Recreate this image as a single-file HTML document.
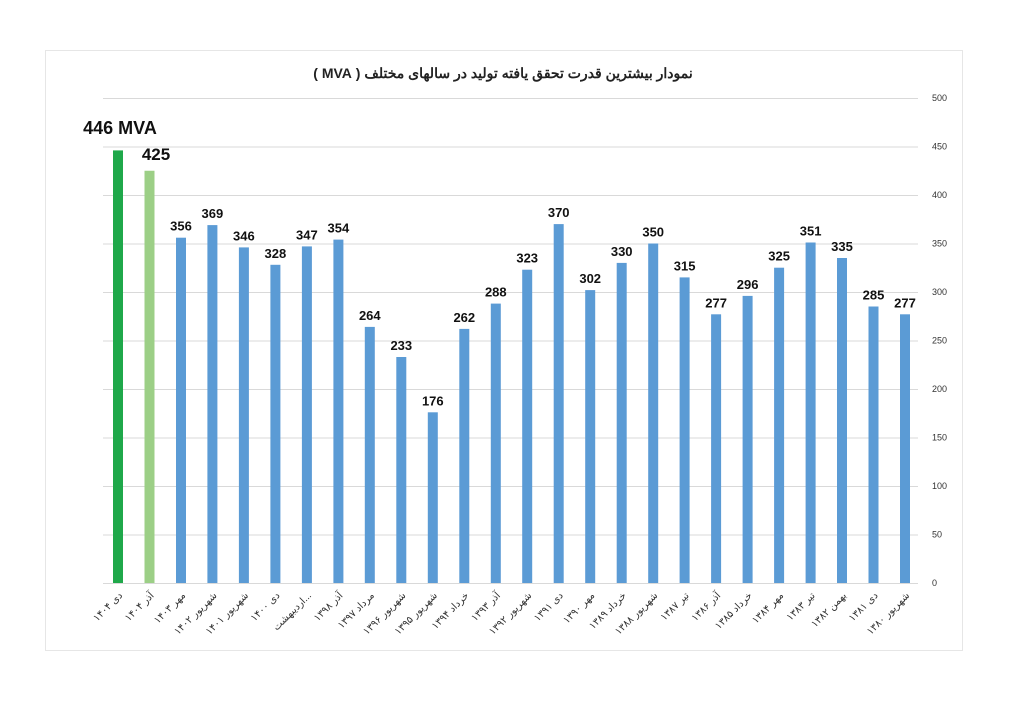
<!DOCTYPE html>
<html><head><meta charset="utf-8"><style>
html,body{margin:0;padding:0;background:#fff;}
svg{display:block;font-family:"Liberation Sans","Noto Sans CJK SC",sans-serif;}
</style></head><body>
<svg width="1024" height="712" viewBox="0 0 1024 712" xmlns="http://www.w3.org/2000/svg">
<rect x="0" y="0" width="1024" height="712" fill="#fff"/>
<rect x="45.5" y="50.5" width="917" height="600" fill="#fff" stroke="#e6e6e6"/>
<text x="503" y="78" text-anchor="middle" font-size="14" font-weight="bold" fill="#222" direction="rtl">نمودار بیشترین قدرت تحقق یافته تولید در سالهای مختلف ( MVA )</text>
<g stroke="#d9d9d9" stroke-width="1">
<line x1="103" x2="918" y1="583.5" y2="583.5"/>
<line x1="103" x2="918" y1="535" y2="535"/>
<line x1="103" x2="918" y1="486.5" y2="486.5"/>
<line x1="103" x2="918" y1="438" y2="438"/>
<line x1="103" x2="918" y1="389.5" y2="389.5"/>
<line x1="103" x2="918" y1="341" y2="341"/>
<line x1="103" x2="918" y1="292.5" y2="292.5"/>
<line x1="103" x2="918" y1="244" y2="244"/>
<line x1="103" x2="918" y1="195.5" y2="195.5"/>
<line x1="103" x2="918" y1="147" y2="147"/>
<line x1="103" x2="918" y1="98.5" y2="98.5"/>
</g>
<g font-size="9" fill="#333">
<text x="932" y="586">0</text>
<text x="932" y="537.5">50</text>
<text x="932" y="489">100</text>
<text x="932" y="440.5">150</text>
<text x="932" y="392">200</text>
<text x="932" y="343.5">250</text>
<text x="932" y="295">300</text>
<text x="932" y="246.5">350</text>
<text x="932" y="198">400</text>
<text x="932" y="149.5">450</text>
<text x="932" y="101">500</text>
</g>
<g fill="#5b9bd5">
<rect x="113" y="150.4" width="10" height="432.6" fill="#1fa84a"/>
<rect x="144.5" y="170.75" width="10" height="412.25" fill="#9ccf86"/>
<rect x="176" y="237.7" width="10" height="345.3"/>
<rect x="207.4" y="225.1" width="10" height="357.9"/>
<rect x="238.9" y="247.4" width="10" height="335.6"/>
<rect x="270.4" y="264.8" width="10" height="318.2"/>
<rect x="301.9" y="246.4" width="10" height="336.6"/>
<rect x="333.4" y="239.6" width="10" height="343.4"/>
<rect x="364.8" y="326.9" width="10" height="256.1"/>
<rect x="396.3" y="357" width="10" height="226"/>
<rect x="427.8" y="412.3" width="10" height="170.7"/>
<rect x="459.3" y="328.9" width="10" height="254.1"/>
<rect x="490.8" y="303.6" width="10" height="279.4"/>
<rect x="522.2" y="269.7" width="10" height="313.3"/>
<rect x="553.7" y="224.1" width="10" height="358.9"/>
<rect x="585.2" y="290.1" width="10" height="292.9"/>
<rect x="616.7" y="262.9" width="10" height="320.1"/>
<rect x="648.2" y="243.5" width="10" height="339.5"/>
<rect x="679.6" y="277.4" width="10" height="305.6"/>
<rect x="711.1" y="314.3" width="10" height="268.7"/>
<rect x="742.6" y="295.9" width="10" height="287.1"/>
<rect x="774.1" y="267.7" width="10" height="315.3"/>
<rect x="805.6" y="242.5" width="10" height="340.5"/>
<rect x="837" y="258" width="10" height="325"/>
<rect x="868.5" y="306.5" width="10" height="276.5"/>
<rect x="900" y="314.3" width="10" height="268.7"/>
</g>
<g font-size="13" font-weight="bold" fill="#111" text-anchor="middle">
<text x="120" y="134" font-size="18">446 MVA</text>
<text x="156" y="160" font-size="17">425</text>
<text x="181" y="230.7">356</text>
<text x="212.4" y="218.1">369</text>
<text x="243.9" y="240.4">346</text>
<text x="275.4" y="257.8">328</text>
<text x="306.9" y="239.4">347</text>
<text x="338.4" y="232.6">354</text>
<text x="369.8" y="319.9">264</text>
<text x="401.3" y="350">233</text>
<text x="432.8" y="405.3">176</text>
<text x="464.3" y="321.9">262</text>
<text x="495.8" y="296.6">288</text>
<text x="527.2" y="262.7">323</text>
<text x="558.7" y="217.1">370</text>
<text x="590.2" y="283.1">302</text>
<text x="621.7" y="255.9">330</text>
<text x="653.2" y="236.5">350</text>
<text x="684.6" y="270.4">315</text>
<text x="716.1" y="307.3">277</text>
<text x="747.6" y="288.9">296</text>
<text x="779.1" y="260.7">325</text>
<text x="810.6" y="235.5">351</text>
<text x="842" y="251">335</text>
<text x="873.5" y="299.5">285</text>
<text x="905" y="307.3">277</text>
</g>
<g font-size="10" fill="#333" text-anchor="end">
<text transform="translate(123,596) rotate(-45)">دی ۱۴۰۴</text>
<text transform="translate(154.5,596) rotate(-45)">آذر ۱۴۰۴</text>
<text transform="translate(186,596) rotate(-45)">مهر ۱۴۰۳</text>
<text transform="translate(217.4,596) rotate(-45)">شهریور ۱۴۰۲</text>
<text transform="translate(248.9,596) rotate(-45)">شهریور ۱۴۰۱</text>
<text transform="translate(280.4,596) rotate(-45)">دی ۱۴۰۰</text>
<text transform="translate(311.9,596) rotate(-45)">اردیبهشت...</text>
<text transform="translate(343.4,596) rotate(-45)">آذر ۱۳۹۸</text>
<text transform="translate(374.8,596) rotate(-45)">مرداد ۱۳۹۷</text>
<text transform="translate(406.3,596) rotate(-45)">شهریور ۱۳۹۶</text>
<text transform="translate(437.8,596) rotate(-45)">شهریور ۱۳۹۵</text>
<text transform="translate(469.3,596) rotate(-45)">خرداد ۱۳۹۴</text>
<text transform="translate(500.8,596) rotate(-45)">آذر ۱۳۹۳</text>
<text transform="translate(532.2,596) rotate(-45)">شهریور ۱۳۹۲</text>
<text transform="translate(563.7,596) rotate(-45)">دی ۱۳۹۱</text>
<text transform="translate(595.2,596) rotate(-45)">مهر ۱۳۹۰</text>
<text transform="translate(626.7,596) rotate(-45)">خرداد ۱۳۸۹</text>
<text transform="translate(658.2,596) rotate(-45)">شهریور ۱۳۸۸</text>
<text transform="translate(689.6,596) rotate(-45)">تیر ۱۳۸۷</text>
<text transform="translate(721.1,596) rotate(-45)">آذر ۱۳۸۶</text>
<text transform="translate(752.6,596) rotate(-45)">خرداد ۱۳۸۵</text>
<text transform="translate(784.1,596) rotate(-45)">مهر ۱۳۸۴</text>
<text transform="translate(815.6,596) rotate(-45)">تیر ۱۳۸۳</text>
<text transform="translate(847,596) rotate(-45)">بهمن ۱۳۸۲</text>
<text transform="translate(878.5,596) rotate(-45)">دی ۱۳۸۱</text>
<text transform="translate(910,596) rotate(-45)">شهریور ۱۳۸۰</text>
</g>
</svg>
</body></html>
